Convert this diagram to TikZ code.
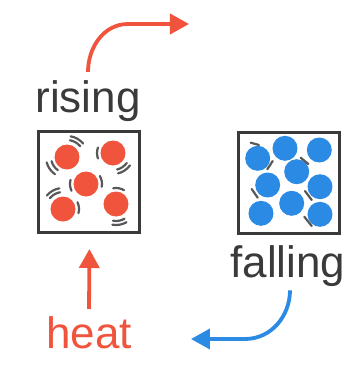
\documentclass[tikz,border=0pt]{standalone}
\usepackage{fontspec}
\setmainfont{Liberation Sans}
\usetikzlibrary{arrows.meta}
\usepackage{xcolor}
\definecolor{hotred}{RGB}{240, 84, 60}
\definecolor{coldblue}{RGB}{43, 138, 228}
\definecolor{ink}{RGB}{58, 58, 58}

% short motion arc around a particle: centre x, centre y, angle, radius
\newcommand{\jig}[4]{\draw[wiggle] (#1,#2) ++({20-(#3)}:#4) arc[start angle={20-(#3)}, end angle={-20-(#3)}, radius=#4];}

\begin{document}
\begin{tikzpicture}[
    x=1pt, y=-1pt,
    word/.style={inner sep=0pt, anchor=base, font=\fontsize{44}{50}\selectfont},
    vessel/.style={rectangle, draw=ink, line width=3pt, minimum size=101pt, inner sep=0pt},
    hotball/.style={fill=hotred},
    coldball/.style={fill=coldblue},
    wiggle/.style={draw=ink!85, line width=2.2pt, line cap=round},
    hotarrow/.style={draw=hotred, line width=3.8pt, -{Triangle[length=19pt,width=20pt]}},
    coldarrow/.style={draw=coldblue, line width=3.8pt, -{Triangle[length=19pt,width=20pt]}}
]
\useasboundingbox (0,0) rectangle (359,368);

% Nodes
\node[word, text=ink] (rising) at (88,112) {rising};
\node[vessel] (hot) at (89.5,182) {};
\node[vessel] (cold) at (289.5,183) {};
\node[word, text=ink] (falling) at (288,277) {falling};
\node[word, text=hotred] (heat) at (89,348) {heat};
\coordinate (away) at (189,24);
\coordinate (sink) at (191,339);

% Hot particles
\fill[hotball] (67,157) circle (12.5);
\fill[hotball] (113,153) circle (12.5);
\fill[hotball] (86,184) circle (12.5);
\fill[hotball] (63,209) circle (12.5);
\fill[hotball] (116,204) circle (12.5);

\jig{67}{157}{60}{17} \jig{67}{157}{60}{21}
\jig{67}{157}{215}{16} \jig{67}{157}{215}{21}
\jig{113}{153}{180}{16}
\jig{113}{153}{-56}{17} \jig{113}{153}{-56}{21}
\jig{86}{184}{10}{16}
\jig{86}{184}{185}{16}
\jig{63}{209}{120}{17} \jig{63}{209}{120}{21}
\jig{63}{209}{5}{16}
\jig{116}{204}{80}{16}
\jig{116}{204}{-80}{17} \jig{116}{204}{-80}{21}

% Cold particles
\fill[coldball] (257.7,158.3) circle (12.5);
\fill[coldball] (285,148.3) circle (12.5);
\fill[coldball] (319.3,150) circle (12.5);
\fill[coldball] (296.7,171.7) circle (12.5);
\fill[coldball] (267.7,185) circle (12.5);
\fill[coldball] (320,186.7) circle (12.5);
\fill[coldball] (291.7,203.3) circle (12.5);
\fill[coldball] (261,213.3) circle (12.5);
\fill[coldball] (320,214.3) circle (12.5);

\draw[wiggle] (250.7,142.7) -- (259,145);
\draw[wiggle] (267.3,169.3) -- (272.7,161);
\draw[wiggle] (300.7,157.7) -- (308.3,164);
\draw[wiggle] (251.7,189) -- (257.7,197.7);
\draw[wiggle] (305,191) -- (311.7,200);
\draw[wiggle] (304.3,216.7) -- (311.7,226);

% Arrows
\draw[hotarrow] ([yshift=8pt]rising.north) to[out=90, in=180] (128,24) -- (away);
\draw[hotarrow, shorten <=7pt, shorten >=15pt] (heat.north) -- (hot.south);
\draw[coldarrow] ([xshift=2pt, yshift=-4pt]falling.south) to[out=-90, in=0] (245,339) -- (sink);

\end{tikzpicture}
\end{document}
